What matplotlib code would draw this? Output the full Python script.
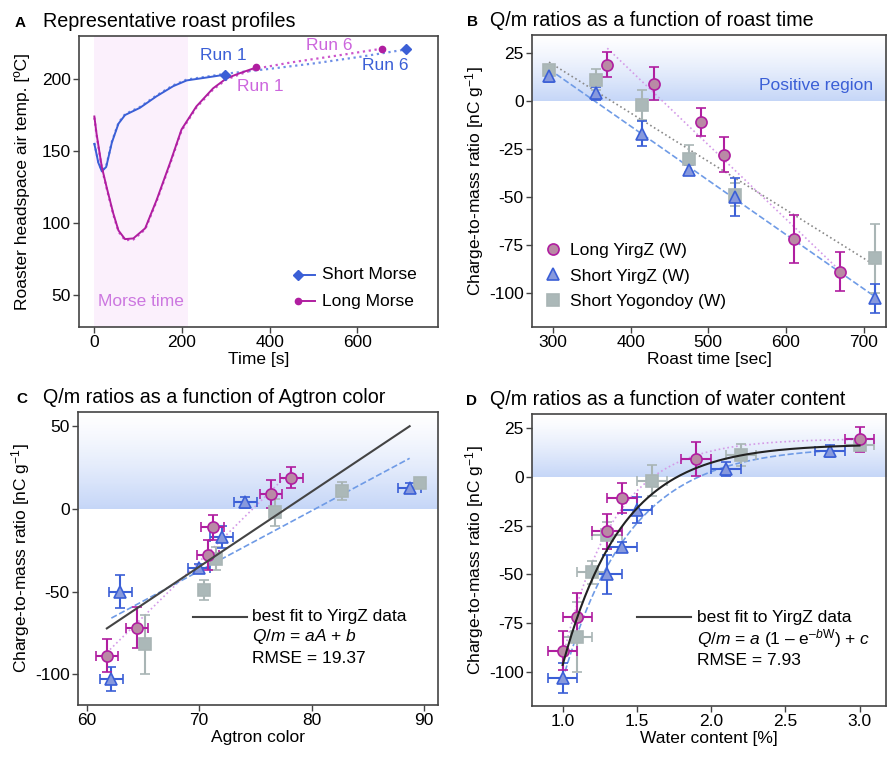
import numpy as np
import matplotlib
matplotlib.use("Agg")
import matplotlib.pyplot as plt
from matplotlib.colors import to_rgb
from matplotlib.lines import Line2D

plt.rcParams["font.family"] = ["Liberation Sans", "DejaVu Sans"]
plt.rcParams["font.size"] = 12.5
plt.rcParams["axes.unicode_minus"] = False
plt.rcParams["mathtext.fontset"] = "custom"
plt.rcParams["mathtext.rm"] = "Liberation Sans"
plt.rcParams["mathtext.it"] = "Liberation Sans:italic"
plt.rcParams["mathtext.default"] = "regular"

# ── Panel A: roast profiles ─────────────────────────────────
short_t = [0, 9, 17, 27, 40, 55, 70, 104, 142, 180, 211, 256, 299]
short_T = [155, 142, 136, 139, 156, 169, 175, 180, 188, 195, 199, 201, 203]
short6_t = [299, 400, 507, 610, 712]
short6_T = [202.5, 207, 211, 215.5, 220.5]
long_t = [0, 5, 17, 28, 43, 55, 70, 89, 116, 142, 173, 199, 233, 271, 302, 332, 370]
long_T = [174, 162, 139, 125, 107, 95, 89, 89.5, 96.5, 116, 142, 165, 181, 193.5, 200.5, 204, 208]
long6_t = [370, 450, 550, 657]
long6_T = [207.5, 211.5, 216, 221]
morse_end = 213

# ── Panels B-D: charge-to-mass ratios (same sample order in every panel) ──
# Long YirgZ (W)
long_time = [370, 430, 490, 520, 610, 670]
long_q = [19, 9, -11, -28, -72, -89]
long_qerr = [6.5, 8.5, 7.5, 9, 12.5, 10]
long_agtron = [78.2, 76.4, 71.2, 70.8, 64.5, 61.8]
long_water = [3.0, 1.9, 1.4, 1.3, 1.1, 1.0]
# Short YirgZ (W)
sy_time = [295, 355, 415, 475, 535, 715]
sy_q = [13, 4, -17, -36, -50, -103]
sy_qerr = [3, 3.5, 6.5, 2.5, 10, 7.5]
sy_agtron = [88.7, 74.1, 72.0, 70.0, 63.0, 62.2]
sy_water = [2.8, 2.1, 1.5, 1.4, 1.3, 1.0]
# Short Yogondoy (W)
yo_time = [295, 355, 415, 475, 535, 715]
yo_q = [16, 11, -2, -30, -49, -82]
yo_qerr = [3, 5.5, 8, 7, 6, 18]
yo_agtron = [89.6, 82.7, 76.7, 71.5, 70.4, 65.2]
yo_water = [3.0, 2.2, 1.6, 1.3, 1.2, 1.1]

agtron_xerr = 1.0
water_xerr = 0.1

MAG = "#b01ea0"
MAG_FACE = "#b98aa5"
BLUE = "#3b5fd6"
BLUE_FACE = "#8799dd"
GREY = "#a9b5b5"
GREY_FACE = "#abb8b8"
PINK_FIT = "#d49ae8"
BLUE_FIT = "#6f9be6"
GREY_FIT = "#8a8a8a"
SPINE = "#444444"


def style(ax):
    for s in ax.spines.values():
        s.set_color(SPINE)
        s.set_linewidth(1.2)
    ax.tick_params(direction="out", length=4, width=1, color=SPINE, pad=2)


def positive_band(ax):
    x0, x1 = ax.get_xlim()
    y0, y1 = ax.get_ylim()
    n = 200
    grad = np.zeros((n, 1, 4))
    grad[:, 0, :3] = to_rgb("#4a7fe8")
    grad[:, 0, 3] = 0.32 * np.linspace(1, 0, n) ** 1.3
    ax.imshow(grad, extent=[x0, x1, 0, y1], origin="lower", aspect="auto",
              zorder=0, interpolation="bilinear")
    ax.set_xlim(x0, x1)
    ax.set_ylim(y0, y1)


def series(ax, x, y, yerr, xerr, kind):
    if kind == "long":
        kw = dict(fmt="o", ms=8, mfc=MAG_FACE, mec=MAG, ecolor=MAG, mew=1.2)
    elif kind == "sy":
        kw = dict(fmt="^", ms=8, mfc=BLUE_FACE, mec=BLUE, ecolor=BLUE, mew=1.2)
    else:
        kw = dict(fmt="s", ms=8, mfc=GREY_FACE, mec=GREY, ecolor=GREY, mew=1.2)
    ax.errorbar(x, y, yerr=yerr, xerr=xerr, capsize=3.5, elinewidth=1.5,
                capthick=1.5, zorder=3, **kw)


def lin(ax, x, y, color, ls, lw=1.2, z=2):
    p = np.polyfit(x, y, 1)
    xs = np.array([min(x), max(x)])
    ax.plot(xs, np.polyval(p, xs), color=color, ls=ls, lw=lw, zorder=z)


def expfit(w, q):
    # Q/m = a(1 - exp(-bW)) + c, grid over b, least squares for a and c
    w = np.asarray(w, float); q = np.asarray(q, float)
    best = None
    for b in np.linspace(0.3, 8, 1541):
        X = np.column_stack([1 - np.exp(-b * w), np.ones_like(w)])
        coef, *_ = np.linalg.lstsq(X, q, rcond=None)
        sse = np.sum((X @ coef - q) ** 2)
        if best is None or sse < best[0]:
            best = (sse, coef[0], b, coef[1])
    return best[1:]


def expcurve(ax, w, q, color, ls, lw=1.2, z=2):
    a, b, c = expfit(w, q)
    ws = np.linspace(min(w), max(w), 200)
    ax.plot(ws, a * (1 - np.exp(-b * ws)) + c, color=color, ls=ls, lw=lw, zorder=z)


def panel_title(fig, ax, letter, text, x_letter, x_text):
    bb = ax.get_position()
    fig.text(x_letter / 888, bb.y1 + 0.012, letter, fontsize=11, fontweight="bold")
    fig.text(x_text / 888, bb.y1 + 0.012, text, fontsize=14.2)


fig = plt.figure(figsize=(8.88, 7.59), dpi=100)
axA = fig.add_axes([0.089, 0.569, 0.404, 0.384])
axB = fig.add_axes([0.599, 0.569, 0.399, 0.385])
axC = fig.add_axes([0.088, 0.071, 0.405, 0.386])
axD = fig.add_axes([0.599, 0.070, 0.399, 0.384])

# ── A ───────────────────────────────────────────────────────
axA.axvspan(0, morse_end, color="#fbf0fc", zorder=0, lw=0)
axA.plot(short_t + short6_t[1:], [t + 0.6 for t in short_T] + short6_T[1:],
         color="#6f8fe6", ls=":", lw=1.6, zorder=2)
axA.plot(long_t + long6_t[1:], [t - 0.8 for t in long_T] + long6_T[1:],
         color="#cc55cc", ls=":", lw=1.6, zorder=2)
axA.plot(short_t, short_T, color=BLUE, lw=1.4, zorder=3)
axA.plot(long_t, long_T, color=MAG, lw=1.4, zorder=3)
axA.plot([short_t[-1], short6_t[-1]], [short_T[-1], short6_T[-1]], "D",
         color=BLUE, ms=5, ls="none", zorder=4)
axA.plot([long_t[-1], long6_t[-1]], [long_T[-1], long6_T[-1]], "o",
         color=MAG, ms=4.5, ls="none", zorder=4)
axA.text(294, 216.5, "Run 1", color=BLUE, ha="center", va="center")
axA.text(665, 209.5, "Run 6", color=BLUE, ha="center", va="center")
axA.text(378, 195, "Run 1", color="#cc66dd", ha="center", va="center")
axA.text(537, 223.5, "Run 6", color="#cc66dd", ha="center", va="center")
axA.text(106, 45.8, "Morse time", color="#cc77e0", ha="center", va="center")
axA.set_xlim(-35, 784)
axA.set_ylim(28, 230)
axA.set_xticks([0, 200, 400, 600])
axA.set_yticks([50, 100, 150, 200])
axA.set_xlabel("Time [s]", labelpad=1)
axA.set_ylabel("Roaster headspace air temp. [ºC]", labelpad=8)
for yy, col, mk, ms, lab in [(0.179, BLUE, "D", 5, "Short Morse"),
                             (0.088, MAG, "o", 4.5, "Long Morse")]:
    axA.plot([0.611, 0.657], [yy, yy], color=col, lw=1.4, transform=axA.transAxes)
    axA.plot([0.611], [yy], mk, color=col, ms=ms, transform=axA.transAxes)
    axA.text(0.676, yy, lab, transform=axA.transAxes, va="center")
style(axA)

# ── B ───────────────────────────────────────────────────────
axB.set_xlim(273, 729)
axB.set_ylim(-118, 34.5)
positive_band(axB)
lin(axB, long_time, long_q, PINK_FIT, ":")
lin(axB, sy_time, sy_q, BLUE_FIT, "--")
lin(axB, yo_time, yo_q, GREY_FIT, ":")
series(axB, yo_time, yo_q, yo_qerr, None, "yo")
series(axB, sy_time, sy_q, sy_qerr, None, "sy")
series(axB, long_time, long_q, long_qerr, None, "long")
axB.text(639, 8, "Positive region", color=BLUE, ha="center", va="center")
handles = [Line2D([], [], ls="none", marker="o", ms=8, mfc=MAG_FACE, mec=MAG, mew=1.2),
           Line2D([], [], ls="none", marker="^", ms=8, mfc=BLUE_FACE, mec=BLUE, mew=1.2),
           Line2D([], [], ls="none", marker="s", ms=8, mfc=GREY_FACE, mec=GREY, mew=1.2)]
axB.legend(handles, ["Long YirgZ (W)", "Short YirgZ (W)", "Short Yogondoy (W)"],
           loc="lower left", bbox_to_anchor=(0.0, 0.02), frameon=False,
           handlelength=1.0, handletextpad=0.5, labelspacing=0.6, borderaxespad=0.3)
axB.set_xticks([300, 400, 500, 600, 700])
axB.set_yticks([25, 0, -25, -50, -75, -100])
axB.set_xlabel("Roast time [sec]", labelpad=1)
axB.set_ylabel("Charge-to-mass ratio [nC g$^{-1}$]", labelpad=2)
style(axB)

# ── C ───────────────────────────────────────────────────────
axC.set_xlim(59.25, 91.2)
axC.set_ylim(-118.8, 58.7)
positive_band(axC)
lin(axC, long_agtron, long_q, PINK_FIT, ":")
lin(axC, sy_agtron, sy_q, BLUE_FIT, "--")
lin(axC, long_agtron + sy_agtron, long_q + sy_q, "#444444", "-", lw=1.5, z=4)
series(axC, yo_agtron, yo_q, yo_qerr, None, "yo")
series(axC, sy_agtron, sy_q, sy_qerr, agtron_xerr, "sy")
series(axC, long_agtron, long_q, long_qerr, agtron_xerr, "long")
axC.plot([0.32, 0.469], [0.302, 0.302], color="#444444", lw=1.5, transform=axC.transAxes)
axC.text(0.4825, 0.302, "best fit to YirgZ data", transform=axC.transAxes, va="center")
axC.text(0.4825, 0.233, r"$\mathit{Q/m}$ = $\mathit{aA}$ + $\mathit{b}$",
         transform=axC.transAxes, va="center")
axC.text(0.4825, 0.160, "RMSE = 19.37", transform=axC.transAxes, va="center")
axC.set_xticks([60, 70, 80, 90])
axC.set_yticks([50, 0, -50, -100])
axC.set_xlabel("Agtron color", labelpad=1)
axC.set_ylabel("Charge-to-mass ratio [nC g$^{-1}$]", labelpad=2)
style(axC)

# ── D ───────────────────────────────────────────────────────
axD.set_xlim(0.793, 3.18)
axD.set_ylim(-117.2, 31.8)
positive_band(axD)
expcurve(axD, long_water, long_q, PINK_FIT, ":")
expcurve(axD, sy_water, sy_q, BLUE_FIT, "--")
expcurve(axD, long_water + sy_water, long_q + sy_q, "#222222", "-", lw=1.5, z=4)
series(axD, yo_water, yo_q, yo_qerr, water_xerr, "yo")
series(axD, sy_water, sy_q, sy_qerr, water_xerr, "sy")
series(axD, long_water, long_q, long_qerr, water_xerr, "long")
axD.plot([0.297, 0.448], [0.304, 0.304], color="#444444", lw=1.5, transform=axD.transAxes)
axD.text(0.4665, 0.304, "best fit to YirgZ data", transform=axD.transAxes, va="center")
axD.text(0.4665, 0.232,
         "$\\mathit{Q/m}$ = $\\mathit{a}$ (1 \u2013 e$^{\u2013\\mathit{b}\\mathrm{W}}$) + $\\mathit{c}$",
         transform=axD.transAxes, va="center")
axD.text(0.4665, 0.155, "RMSE = 7.93", transform=axD.transAxes, va="center")
axD.set_xticks([1.0, 1.5, 2.0, 2.5, 3.0])
axD.set_xticklabels(["1.0", "1.5", "2.0", "2.5", "3.0"])
axD.set_yticks([25, 0, -25, -50, -75, -100])
axD.set_xlabel("Water content [%]", labelpad=1)
axD.set_ylabel("Charge-to-mass ratio [nC g$^{-1}$]", labelpad=2)
style(axD)

panel_title(fig, axA, "A", "Representative roast profiles", 15, 43)
panel_title(fig, axB, "B", "Q/m ratios as a function of roast time", 467, 490)
panel_title(fig, axC, "C", "Q/m ratios as a function of Agtron color", 16, 43)
panel_title(fig, axD, "D", "Q/m ratios as a function of water content", 466, 490)

fig.savefig("out.png", dpi=100)
